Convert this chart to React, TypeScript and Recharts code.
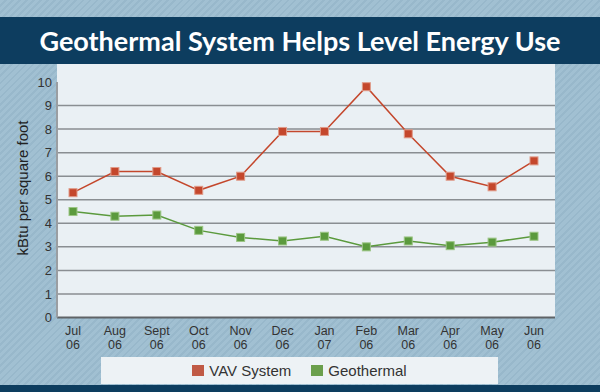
import { LineChart, Line, XAxis, YAxis, CartesianGrid, Legend } from 'recharts'

const months = ['Jul', 'Aug', 'Sept', 'Oct', 'Nov', 'Dec', 'Jan', 'Feb', 'Mar', 'Apr', 'May', 'Jun']
const years = ['06', '06', '06', '06', '06', '06', '07', '06', '06', '06', '06', '06']
const vav = [5.3, 6.2, 6.2, 5.4, 6.0, 7.9, 7.9, 9.8, 7.8, 6.0, 5.55, 6.65]
const geothermal = [4.5, 4.3, 4.35, 3.7, 3.4, 3.25, 3.45, 3.0, 3.25, 3.05, 3.2, 3.45]
const yTicks = [0, 1, 2, 3, 4, 5, 6, 7, 8, 9, 10]
const gridValues = [1, 2, 3, 4, 5, 6, 7, 8, 9]

const RED = '#c4472c'
const GREEN = '#5b9a3d'

const data = months.map((m, i) => ({
    month: m,
    year: years[i],
    vav: vav[i],
    geo: geothermal[i],
}))

const MonthTick = (props: any) => {
    const { x, y, payload, index } = props
    return (
        <text x={x} y={y} textAnchor="middle" fill="#333" fontSize={12.5} fontFamily="Liberation Sans, Arial, sans-serif">
            <tspan x={x} dy={15.5}>{payload.value}</tspan>
            <tspan x={x} dy={14}>{years[index]}</tspan>
        </text>
    )
}

const squareDot = (color: string, stroke: string) => (p: any) => (
    <rect key={`d-${p.index}`} x={p.cx - 4} y={p.cy - 4} width={8} height={8} fill={color} stroke={stroke} strokeWidth={1} />
)

const LegendBox = () => (
    <div style={{
        width: 397, height: 27, background: '#edf2f5', display: 'flex', alignItems: 'center',
        justifyContent: 'center', fontFamily: 'Liberation Sans, Arial, sans-serif', fontSize: 15, color: '#333',
    }}>
        <span style={{ width: 12, height: 11, background: '#c05a45', display: 'inline-block', marginRight: 5 }} />
        <span style={{ marginRight: 20 }}>VAV System</span>
        <span style={{ width: 12, height: 11, background: '#6a9f4c', display: 'inline-block', marginRight: 5 }} />
        <span>Geothermal</span>
    </div>
)

export default function App() {
    return (
        <div style={{
            position: 'absolute', left: 0, top: 0, width: 600, height: 392, overflow: 'hidden',
            background: 'repeating-linear-gradient(135deg, #a1c0d2 0px, #a1c0d2 3px, #98b8cb 3px, #98b8cb 5px)',
        }}>
            <div style={{
                position: 'absolute', left: 0, top: 17, width: 600, height: 47, background: '#0d3d5f',
                color: '#fff', fontFamily: 'Lato, sans-serif', fontWeight: 700, fontSize: 27,
                display: 'flex', alignItems: 'center', justifyContent: 'center',
            }}>
                Geothermal System Helps Level Energy Use
            </div>
            <div style={{ position: 'absolute', left: 57, top: 64, width: 498, height: 254, background: '#eaf0f4' }} />
            <div style={{ position: 'absolute', left: 0, top: 385, width: 600, height: 7, background: '#0d3d5f' }} />
            <div style={{
                position: 'absolute', left: 22, top: 188, transform: 'translate(-50%, -50%) rotate(-90deg)',
                whiteSpace: 'nowrap', fontFamily: 'Liberation Sans, Arial, sans-serif', fontSize: 15, color: '#222',
            }}>
                kBtu per square foot
            </div>
            <div style={{ position: 'absolute', left: 0, top: 0 }}>
                <LineChart width={600} height={392} data={data} margin={{ top: 82, right: 45, bottom: 34.5, left: 0 }}>
                    <CartesianGrid horizontal vertical={false} horizontalValues={gridValues} stroke="#8a8e92" strokeWidth={1.5} />
                    <XAxis
                        dataKey="month"
                        height={40}
                        padding={{ left: 16, right: 21 }}
                        tick={<MonthTick />}
                        tickLine={false}
                        tickSize={0}
                        interval={0}
                        axisLine={{ stroke: '#5f6366', strokeWidth: 2 }}
                    />
                    <YAxis
                        width={57}
                        domain={[0, 10]}
                        ticks={yTicks}
                        tickLine={false}
                        tickSize={0}
                        tickMargin={5}
                        axisLine={{ stroke: '#9a9ea2', strokeWidth: 2 }}
                        tick={{ fill: '#333', fontSize: 13, fontFamily: 'Liberation Sans, Arial, sans-serif' }}
                    />
                    <Legend
                        layout="horizontal"
                        verticalAlign="middle"
                        align="center"
                        wrapperStyle={{ left: 101, top: 357, width: 397, height: 27 }}
                        content={<LegendBox />}
                    />
                    <Line dataKey="vav" name="VAV System" stroke={RED} strokeWidth={1.5} isAnimationActive={false}
                        dot={squareDot(RED, '#e09a88')} activeDot={false} />
                    <Line dataKey="geo" name="Geothermal" stroke={GREEN} strokeWidth={1.5} isAnimationActive={false}
                        dot={squareDot(GREEN, '#9cc585')} activeDot={false} />
                </LineChart>
            </div>
        </div>
    )
}
